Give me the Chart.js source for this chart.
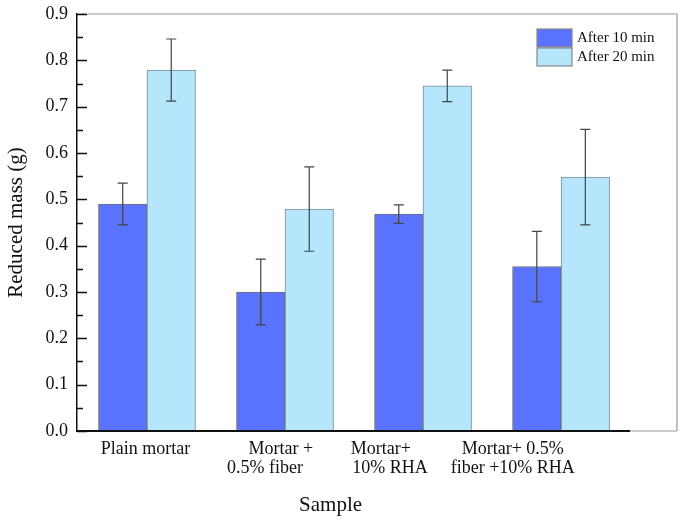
<!DOCTYPE html>
<html>
<head>
<meta charset="utf-8">
<script src="https://cdn.jsdelivr.net/npm/chart.js@4.4.1/dist/chart.umd.min.js"></script>
<style>
  html, body { margin: 0; padding: 0; background: #fff; }
  #wrap { width: 685px; height: 521px; }
</style>
</head>
<body>
<div id="wrap"><canvas id="massChart"></canvas></div>
<script>
// Datos
const categories = [
    ['Plain mortar'],
    ['       Mortar +', '0.5% fiber'],
    ['Mortar+    ', '10% RHA'],
    ['Mortar+ 0.5%', 'fiber +10% RHA']
];
const seriesNames = ['After 10 min', 'After 20 min'];
const after10 = [0.49, 0.30, 0.468, 0.355];
const after10Err = [0.045, 0.071, 0.02, 0.076];
const after20 = [0.779, 0.479, 0.745, 0.548];
const after20Err = [0.067, 0.091, 0.034, 0.103];
const yMin = 0;
const yMax = 0.9;
const yStep = 0.1;

// posicion de las etiquetas del eje x (en unidades del eje)
const labelPos = [0.99, 1.855, 2.76, 3.65];
const serif = '"Liberation Serif", "DejaVu Serif", serif';

const toPoints = (arr) => arr.map((v, i) => ({ x: i + 1, y: v }));

// Barras de error
const errorBars = {
    id: 'errorBars',
    afterDatasetsDraw(chart) {
        const ctx = chart.ctx;
        const y = chart.scales.y;
        const errs = [after10Err, after20Err];
        ctx.save();
        ctx.strokeStyle = '#444';
        ctx.lineWidth = 1.2;
        chart.data.datasets.forEach((ds, d) => {
            const meta = chart.getDatasetMeta(d);
            meta.data.forEach((bar, i) => {
                const v = ds.data[i].y;
                const top = y.getPixelForValue(v + errs[d][i]);
                const bot = y.getPixelForValue(v - errs[d][i]);
                ctx.beginPath();
                ctx.moveTo(bar.x, top); ctx.lineTo(bar.x, bot);
                ctx.moveTo(bar.x - 5, top); ctx.lineTo(bar.x + 5, top);
                ctx.moveTo(bar.x - 5, bot); ctx.lineTo(bar.x + 5, bot);
                ctx.stroke();
            });
        });
        ctx.restore();
    }
};

// Marco, ticks hacia adentro, leyenda y titulo x
const frame = {
    id: 'frame',
    afterDraw(chart) {
        const ctx = chart.ctx;
        const a = chart.chartArea;
        const x = chart.scales.x;
        const y = chart.scales.y;
        ctx.save();

        ctx.strokeStyle = '#999';
        ctx.lineWidth = 1.2;
        ctx.beginPath();
        ctx.moveTo(a.left, a.top); ctx.lineTo(a.right, a.top);
        ctx.lineTo(a.right, a.bottom);
        ctx.stroke();

        const xEnd = x.getPixelForValue(4.5);
        ctx.beginPath();
        ctx.moveTo(xEnd, a.bottom); ctx.lineTo(a.right, a.bottom);
        ctx.stroke();

        ctx.strokeStyle = '#111';
        ctx.lineWidth = 2;
        ctx.beginPath();
        ctx.moveTo(a.left, a.bottom); ctx.lineTo(xEnd, a.bottom);
        ctx.stroke();

        ctx.lineWidth = 1.5;
        for (let k = 0; k <= 18; k++) {
            const py = Math.round(y.getPixelForValue(k * 0.05)) + 0.5;
            const len = k % 2 === 0 ? 10 : 6;
            ctx.beginPath();
            ctx.moveTo(a.left, py); ctx.lineTo(a.left + len, py);
            ctx.stroke();
        }

        // leyenda
        ctx.font = '15px ' + serif;
        ctx.textBaseline = 'middle';
        ctx.fillStyle = '#111';
        chart.data.datasets.forEach((ds, d) => {
            const ly = 29 + d * 19;
            ctx.fillStyle = ds.backgroundColor;
            ctx.fillRect(537, ly, 35, 18);
            ctx.strokeStyle = '#888';
            ctx.lineWidth = 1.2;
            ctx.strokeRect(537, ly, 35, 18);
            ctx.fillStyle = '#111';
            ctx.fillText(ds.label, 577, ly + 9);
        });

        // titulo eje x
        ctx.font = '21px ' + serif;
        ctx.textAlign = 'center';
        ctx.textBaseline = 'alphabetic';
        ctx.fillText('Sample', x.getPixelForValue(2.33), 511);
        ctx.restore();
    }
};

const ctx = document.getElementById('massChart');

new Chart(ctx, {
    type: 'bar',
    data: {
        datasets: [{
            label: seriesNames[0],
            data: toPoints(after10),
            backgroundColor: '#5A73FF',
            borderColor: '#6E6E78',
            borderWidth: 1,
            barThickness: 48.5
        }, {
            label: seriesNames[1],
            data: toPoints(after20),
            backgroundColor: '#B6E6FC',
            borderColor: '#7A8A92',
            borderWidth: 1,
            barThickness: 48.5
        }]
    },
    options: {
        responsive: true,
        maintainAspectRatio: false,
        animation: false,
        layout: { padding: { top: 14, right: 8, left: 0, bottom: 0 } },
        plugins: {
            legend: { display: false },
            tooltip: { enabled: false }
        },
        scales: {
            x: {
                type: 'linear',
                min: 0.493,
                max: 4.84,
                offset: false,
                grid: { display: false, drawTicks: false },
                border: { display: false },
                afterBuildTicks: (scale) => {
                    scale.ticks = labelPos.map(v => ({ value: v }));
                },
                afterFit: (scale) => {
                    scale.height = 90;
                    scale.paddingLeft = 0;
                    scale.paddingRight = 0;
                },
                ticks: {
                    autoSkip: false,
                    maxRotation: 0,
                    padding: 8,
                    color: '#111',
                    font: { family: serif, size: 18, lineHeight: 1.1 },
                    callback: (value, index) => categories[index]
                }
            },
            y: {
                min: yMin,
                max: yMax,
                grid: { display: false, drawTicks: false },
                border: { display: true, color: '#111', width: 1.5 },
                afterFit: (scale) => {
                    scale.width = 77;
                    scale.paddingTop = 0;
                    scale.paddingBottom = 0;
                },
                ticks: {
                    stepSize: yStep,
                    padding: 9,
                    color: '#111',
                    font: { family: serif, size: 18 },
                    callback: (v) => v.toFixed(1)
                },
                title: {
                    display: true,
                    text: 'Reduced mass (g)',
                    color: '#111',
                    padding: { top: 4, bottom: 0 },
                    font: { family: serif, size: 21 }
                }
            }
        }
    },
    plugins: [errorBars, frame]
});
</script>
</body>
</html>
